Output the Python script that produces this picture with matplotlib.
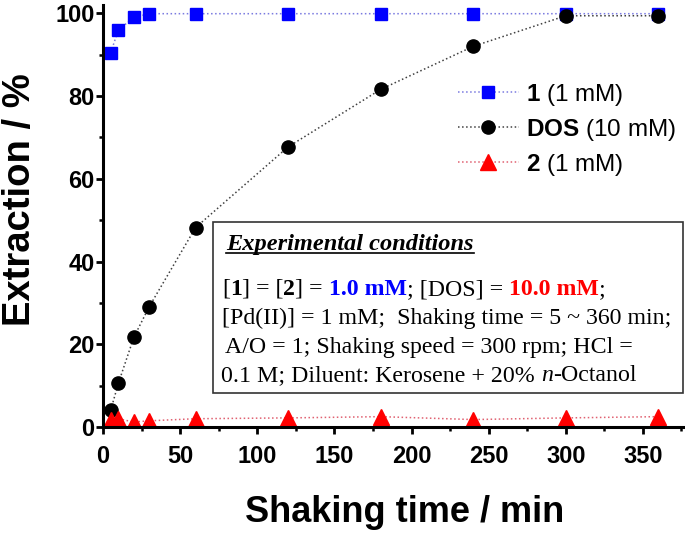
import numpy as np
import matplotlib
matplotlib.use('Agg')
import matplotlib.pyplot as plt
from matplotlib.ticker import MultipleLocator
from matplotlib.lines import Line2D
from matplotlib.patches import Rectangle

plt.rcParams['font.family'] = ['Liberation Sans', 'DejaVu Sans']
plt.rcParams['mathtext.fontset'] = 'custom'
plt.rcParams['mathtext.rm'] = 'Liberation Sans'
plt.rcParams['mathtext.bf'] = 'Liberation Sans:bold'

# data
time_min = [5, 10, 20, 30, 60, 120, 180, 240, 300, 360]
ext_1 = [90.5, 96.0, 99.0, 99.9, 99.9, 99.9, 99.9, 99.9, 99.9, 99.9]
ext_dos = [4.1, 10.6, 21.7, 29.1, 48.2, 67.7, 81.6, 92.0, 99.4, 99.4]
ext_2 = [1.6, 2.0, 1.2, 1.5, 2.0, 2.2, 2.5, 1.8, 2.2, 2.5]

series = [
    (ext_1, r'$\mathbf{1}$ (1 mM)', 's', 9, '#0000ff', '#7a7ae0'),
    (ext_dos, r'$\mathbf{DOS}$ (10 mM)', 'o', 9.5, '#000000', '#404040'),
    (ext_2, r'$\mathbf{2}$ (1 mM)', '^', 11, '#ff0000', '#e06070'),
]

W, H = 685, 535
fig = plt.figure(figsize=(W / 100, H / 100), dpi=100)
ax = fig.add_axes([103 / W, 1 - 427 / H, (683 - 103) / W, (427 - 5) / H])

handles = []
for vals, label, mk, ms, mcol, lcol in series:
    ax.plot(time_min, vals, ls=':', lw=1.1, color=lcol)
    ax.plot(time_min, vals, ls='none', marker=mk, ms=ms, color=mcol, mec=mcol)
    handles.append(Line2D([], [], ls=':', lw=1.1, color=lcol, marker=mk,
                          ms=ms, mfc=mcol, mec=mcol, label=label))

ax.set_xlim(0, 376)
ax.set_ylim(0, 102)
ax.xaxis.set_major_locator(MultipleLocator(50))
ax.xaxis.set_minor_locator(MultipleLocator(25))
ax.yaxis.set_major_locator(MultipleLocator(20))
ax.yaxis.set_minor_locator(MultipleLocator(10))
for s in ['top', 'right']:
    ax.spines[s].set_visible(False)
for s in ['left', 'bottom']:
    ax.spines[s].set_linewidth(2.2)
ax.tick_params(which='major', direction='out', length=5, width=2, labelsize=17)
ax.tick_params(which='minor', direction='out', length=3, width=1.8)
ax.tick_params(axis='x', which='major', pad=8)
ax.tick_params(axis='y', which='major', pad=1)
for lab in ax.get_xticklabels() + ax.get_yticklabels():
    lab.set_fontweight('bold')

fig.text(20 / W, 1 - 200 / H, 'Extraction / %', rotation=90, ha='center',
         va='center', fontsize=27.5, fontweight='bold')
fig.text(405 / W, 1 - 513 / H, 'Shaking time / min', ha='center',
         va='center', fontsize=26, fontweight='bold')

fig.legend(handles=handles, loc='upper left',
           bbox_to_anchor=(458 / W, 1 - 82 / H), frameon=False, fontsize=17.5,
           handlelength=2.5, handletextpad=0.3, labelspacing=0.36,
           borderpad=0, borderaxespad=0)

# experimental conditions box
fig.patches.append(Rectangle((213 / W, 1 - 393 / H), (683 - 213) / W,
                             (393 - 222) / H, transform=fig.transFigure,
                             fill=False, ec='#333333', lw=1.2))

renderer = fig.canvas.get_renderer()
serif = ['Liberation Serif', 'DejaVu Serif']


def text_width(s, **kw):
    t = fig.text(0, 0, s + 'x', **kw)
    r = fig.text(0, 0, 'x', **kw)
    w = t.get_window_extent(renderer).width - r.get_window_extent(renderer).width
    t.remove()
    r.remove()
    return w


def rich_line(x, y, pieces, size=17.2):
    for s, props in pieces:
        kw = dict(fontsize=size, family=serif, va='baseline', ha='left', **props)
        fig.text(x / W, 1 - y / H, s, **kw)
        x += text_width(s, **kw)
    return x


b = {'fontweight': 'bold'}
x_end = rich_line(226, 250, [('Experimental conditions',
                              {'fontweight': 'bold', 'fontstyle': 'italic'})],
                  size=17.6)
fig.add_artist(Line2D([226 / W, x_end / W], [1 - 253 / H, 1 - 253 / H],
                      color='black', lw=1.2))

rich_line(222, 295, [('[', {}), ('1', b), ('] = [', {}), ('2', b), ('] = ', {}),
                     ('1.0 mM', {'fontweight': 'bold', 'color': '#0000ff'}),
                     ('; [DOS] = ', {}),
                     ('10.0 mM', {'fontweight': 'bold', 'color': '#ff0000'}),
                     (';', {})])
rich_line(222, 324, [('[Pd(II)] = 1 mM;  Shaking time = 5 ~ 360 min;', {})])
rich_line(225, 353, [('A/O = 1; Shaking speed = 300 rpm; HCl =', {})])
rich_line(221, 381, [('0.1 M; Diluent: Kerosene + 20% ', {}),
                     ('n', {'fontstyle': 'italic'}), ('-Octanol', {})])

fig.savefig('out.png', dpi=100)
